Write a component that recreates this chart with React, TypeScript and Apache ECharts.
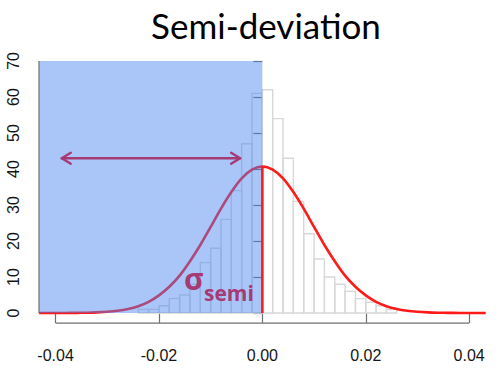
import { useEffect, useRef } from "react";
import * as echarts from "echarts";

// Histogram bins (left edge) and counts, bin width 0.002
const binStarts = [
  -0.024, -0.022, -0.02, -0.018, -0.016, -0.014, -0.012, -0.01, -0.008, -0.006, -0.004, -0.002,
  0, 0.002, 0.004, 0.006, 0.008, 0.01, 0.012, 0.014, 0.016, 0.018, 0.02, 0.022, 0.024,
];
const binCounts = [
  1, 1, 2, 4, 5, 8, 14, 18, 26, 34, 47, 61,
  62, 54, 43, 31, 22, 15, 10, 8, 6, 4, 3, 2, 1,
];
const binWidth = 0.002;

// Normal curve
const curveX = [
  -0.0432, -0.04, -0.038, -0.036, -0.034, -0.032, -0.03, -0.028, -0.026, -0.024, -0.022, -0.02,
  -0.018, -0.016, -0.014, -0.012, -0.01, -0.008, -0.006, -0.004, -0.002, 0,
  0.002, 0.004, 0.006, 0.008, 0.01, 0.012, 0.014, 0.016, 0.018, 0.02, 0.022, 0.024, 0.026,
  0.028, 0.03, 0.032, 0.034, 0.036, 0.038, 0.04, 0.0432,
];
const curveY = [
  0, 0.01, 0.02, 0.04, 0.09, 0.18, 0.34, 0.63, 1.12, 1.9, 3.1, 4.9,
  7.3, 10.4, 14.4, 18.9, 23.9, 29.0, 33.6, 37.4, 39.8, 40.7,
  39.8, 37.4, 33.6, 29.0, 23.9, 18.9, 14.4, 10.4, 7.3, 4.9, 3.1, 1.9, 1.12,
  0.63, 0.34, 0.18, 0.09, 0.04, 0.02, 0.01, 0,
];

const xTicks = [-0.04, -0.02, 0, 0.02, 0.04];
const yTicks = [0, 10, 20, 30, 40, 50, 60, 70];
const xRange = [-0.0432, 0.0432];
const yRange = [-2.8, 72.8];

// Shaded downside region [x0, x1, yTop]
const shade = [[-0.0432, 0, 70]];
// Semi-deviation arrow [x0, x1, y]
const arrow = [[-0.0388, -0.0043, 43]];
// Mean line [x, peak]
const meanLine = [[0, 40.7]];

export default function App() {
  const ref = useRef<HTMLDivElement>(null);
  useEffect(() => {
    if (!ref.current) return;
    document.body.style.margin = "0";
    const chart = echarts.init(ref.current, null, { renderer: "svg" });
    const purple = "#a63a74";
    const option: any = {
      animation: false,
      backgroundColor: "#ffffff",
      grid: { left: 39, right: 14.3, top: 50.9, bottom: 51.9, containLabel: false },
      xAxis: {
        type: "value",
        min: xRange[0],
        max: xRange[1],
        splitLine: { show: false },
        axisLine: { show: false },
        axisTick: {
          show: true,
          customValues: xTicks,
          length: 10,
          lineStyle: { color: "#707070", width: 1.2 },
        },
        axisLabel: {
          customValues: xTicks,
          margin: 24,
          fontSize: 16,
          fontFamily: "Liberation Sans, Arial, sans-serif",
          color: "#151515",
          formatter: (v: number) => v.toFixed(2),
        },
      },
      yAxis: {
        type: "value",
        min: yRange[0],
        max: yRange[1],
        splitLine: { show: false },
        axisLine: { show: false },
        axisTick: {
          show: true,
          customValues: yTicks,
          length: 9,
          lineStyle: { color: "#707070", width: 1.2 },
        },
        axisLabel: {
          customValues: yTicks,
          rotate: 90,
          margin: 18,
          fontSize: 16,
          fontFamily: "Liberation Sans, Arial, sans-serif",
          color: "#151515",
        },
      },
      series: [
        {
          type: "custom",
          name: "hist",
          z: 1,
          data: binStarts.map((s, i) => [s, s + binWidth, binCounts[i]]),
          encode: { x: [0, 1], y: 2 },
          renderItem: (_p: any, api: any) => {
            const a = api.coord([api.value(0), api.value(2)]);
            const b = api.coord([api.value(1), 0]);
            return {
              type: "rect",
              shape: { x: a[0], y: a[1], width: b[0] - a[0], height: b[1] - a[1] },
              style: { fill: "none", stroke: "#d8d8d8", lineWidth: 1.4 },
            };
          },
        },
        {
          type: "line",
          name: "curve",
          z: 2,
          data: curveX.map((x, i) => [x, curveY[i]]),
          showSymbol: false,
          smooth: 0.3,
          lineStyle: { color: "#ff1a1a", width: 2.6 },
        },
        {
          type: "custom",
          name: "shade",
          z: 3,
          data: shade,
          encode: { x: [0, 1], y: 2 },
          renderItem: (_p: any, api: any) => {
            const a = api.coord([api.value(0), api.value(2)]);
            const b = api.coord([api.value(1), 0]);
            return {
              type: "rect",
              shape: { x: a[0], y: a[1], width: b[0] - a[0], height: b[1] - a[1] },
              style: { fill: "rgba(70,130,243,0.46)", stroke: "none" },
            };
          },
        },
        {
          type: "custom",
          name: "mean",
          z: 4,
          data: meanLine,
          encode: { x: 0, y: 1 },
          renderItem: (_p: any, api: any) => {
            const a = api.coord([api.value(0), 0]);
            const b = api.coord([api.value(0), api.value(1)]);
            return {
              type: "line",
              shape: { x1: a[0], y1: a[1], x2: b[0], y2: b[1] },
              style: { stroke: "#ff1a1a", lineWidth: 2.6 },
            };
          },
        },
        {
          type: "custom",
          name: "arrow",
          z: 5,
          data: arrow,
          encode: { x: [0, 1], y: 2 },
          renderItem: (_p: any, api: any) => {
            const a = api.coord([api.value(0), api.value(2)]);
            const b = api.coord([api.value(1), api.value(2)]);
            const hl = 9;
            const hw = 5.5;
            const st = { stroke: purple, lineWidth: 2.4, fill: "none", lineCap: "round", lineJoin: "round" };
            return {
              type: "group",
              children: [
                { type: "line", shape: { x1: a[0], y1: a[1], x2: b[0], y2: b[1] }, style: st },
                {
                  type: "polyline",
                  shape: { points: [[a[0] + hl, a[1] - hw], [a[0], a[1]], [a[0] + hl, a[1] + hw]] },
                  style: st,
                },
                {
                  type: "polyline",
                  shape: { points: [[b[0] - hl, b[1] - hw], [b[0], b[1]], [b[0] - hl, b[1] + hw]] },
                  style: st,
                },
              ],
            };
          },
        },
        {
          type: "custom",
          name: "axes",
          z: 6,
          data: [[xTicks[0], xTicks[xTicks.length - 1], yRange[0], xRange[0], yTicks[0], yTicks[yTicks.length - 1]]],
          encode: { x: [0, 1], y: 2 },
          clip: false,
          renderItem: (_p: any, api: any) => {
            const xa = api.coord([api.value(0), api.value(2)]);
            const xb = api.coord([api.value(1), api.value(2)]);
            const ya = api.coord([api.value(3), api.value(4)]);
            const yb = api.coord([api.value(3), api.value(5)]);
            const st = { stroke: "#707070", lineWidth: 1.2 };
            return {
              type: "group",
              children: [
                { type: "line", shape: { x1: xa[0], y1: xa[1], x2: xb[0], y2: xb[1] }, style: st },
                { type: "line", shape: { x1: ya[0], y1: ya[1], x2: yb[0], y2: yb[1] }, style: st },
              ],
            };
          },
        },
      ],
      graphic: [
        {
          type: "text",
          x: 266,
          y: 25,
          style: {
            text: "Semi-deviation",
            fontSize: 35,
            fontFamily: "Lato, Open Sans, sans-serif",
            fill: "#000",
            align: "center",
            verticalAlign: "middle",
          },
        },
        {
          type: "text",
          x: 184,
          y: 278,
          z: 10,
          style: {
            text: "σ",
            fontSize: 30,
            fontWeight: "bold",
            fontFamily: "Open Sans, sans-serif",
            fill: purple,
            align: "left",
            verticalAlign: "middle",
          },
        },
        {
          type: "text",
          x: 204,
          y: 292.5,
          z: 10,
          style: {
            text: "semi",
            fontSize: 21,
            fontWeight: "bold",
            fontFamily: "Open Sans, sans-serif",
            fill: purple,
            align: "left",
            verticalAlign: "middle",
          },
        },
      ],
    };
    chart.setOption(option);
    return () => chart.dispose();
  }, []);
  return <div ref={ref} style={{ width: 500, height: 375 }} />;
}
